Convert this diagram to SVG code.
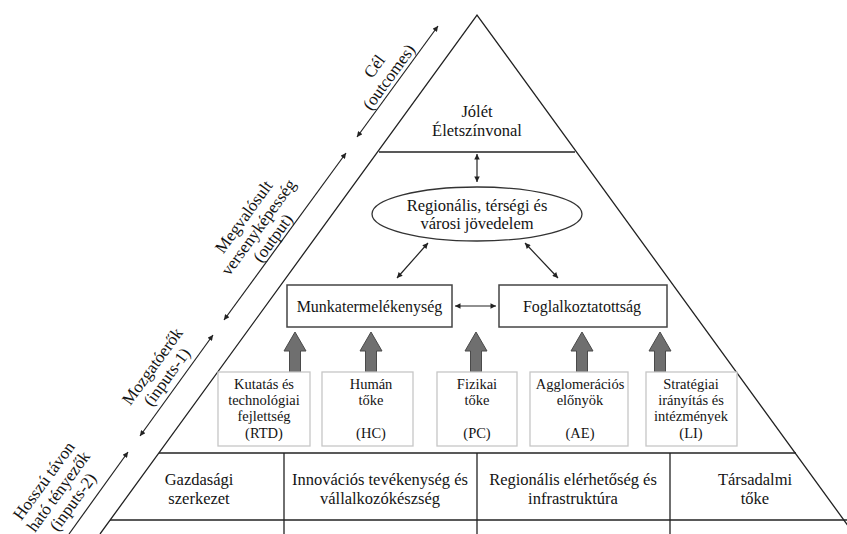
<svg xmlns="http://www.w3.org/2000/svg" xmlns:xlink="http://www.w3.org/1999/xlink" width="847" height="534" viewBox="0 0 847 534">
<style>
  text { font-family: 'Liberation Serif', 'DejaVu Serif', serif; fill: #141414; text-anchor: middle; }
  .ln { stroke: #222; stroke-width: 1.3; fill: none; }
  .arr { stroke: #222; stroke-width: 1.2; fill: none; marker-start: url(#ah); marker-end: url(#ah); }
  .box { fill: #fff; stroke: #444; stroke-width: 1.5; }
  .ibox { fill: #fff; stroke: #c6c6c6; stroke-width: 1.3; }
  .t16 { font-size: 16.5px; }
  .t15 { font-size: 16px; }
  .t14 { font-size: 14.5px; }
  .side { font-size: 17px; }
  .garrow { fill: #6f6f6f; stroke: #4a4a4a; stroke-width: 1; }
</style>
<defs>
  <marker id="ah" viewBox="0 0 10 10" refX="10" refY="5" markerWidth="7" markerHeight="5.5" orient="auto-start-reverse" markerUnits="userSpaceOnUse">
    <path d="M0,0 L10,5 L0,10 z" fill="#222"/>
  </marker>
  <path id="ga" class="garrow" d="M0,332 L11,351 L5.5,351 L5.5,372 L-5.5,372 L-5.5,351 L-11,351 Z"/>
</defs>
<rect width="847" height="534" fill="#fff"/>

<g id="frame">
  <path class="ln" d="M100,534 L477,15 L854,534"/>
  <line class="ln" x1="379" y1="152" x2="575" y2="152"/>
  <line class="ln" x1="159" y1="453" x2="796" y2="453"/>
  <line class="ln" x1="110" y1="520" x2="847" y2="520"/>
  <line class="ln" x1="284" y1="453" x2="284" y2="534"/>
  <line class="ln" x1="477" y1="453" x2="477" y2="534"/>
  <line class="ln" x1="670" y1="453" x2="670" y2="534"/>
</g>

<g id="connectors">
  <line class="arr" x1="357" y1="137" x2="438" y2="26"/>
  <line class="arr" x1="224" y1="320" x2="346" y2="153"/>
  <line class="arr" x1="140" y1="436" x2="213" y2="335"/>
  <line class="ln" x1="69" y1="534" x2="128" y2="452" style="stroke-width:1.2; marker-end:url(#ah)"/>
  <line class="arr" x1="477" y1="154" x2="477" y2="182"/>
  <line class="arr" x1="428" y1="243" x2="397" y2="278"/>
  <line class="arr" x1="525" y1="243" x2="558" y2="278"/>
  <line class="arr" x1="455" y1="306" x2="496" y2="306"/>
  <use xlink:href="#ga" x="295"/>
  <use xlink:href="#ga" x="371"/>
  <use xlink:href="#ga" x="476"/>
  <use xlink:href="#ga" x="582"/>
  <use xlink:href="#ga" x="660"/>
</g>

<g id="side-cel" transform="translate(389,77) rotate(-54)">
  <text class="side" y="-12.5">Cél</text>
  <text class="side" y="5.5">(outcomes)</text>
</g>
<g id="side-output" transform="translate(273,238) rotate(-54)">
  <text class="side" y="-30.5">Megvalósult</text>
  <text class="side" y="-12.5">versenyképesség</text>
  <text class="side" y="5.5">(output)</text>
</g>
<g id="side-inputs1" transform="translate(167,377) rotate(-54)">
  <text class="side" y="-12.5">Mozgatóerők</text>
  <text class="side" y="5.5">(inputs-1)</text>
</g>
<g id="side-inputs2" transform="translate(73,502) rotate(-54)">
  <text class="side" y="-30.5">Hosszú távon</text>
  <text class="side" y="-12.5">ható tényezők</text>
  <text class="side" y="5.5">(inputs-2)</text>
</g>

<g id="jolet">
  <text class="t16" x="477" y="117">Jólét</text>
  <text class="t16" x="477" y="136">Életszínvonal</text>
</g>

<g id="jovedelem">
  <ellipse cx="477" cy="214" rx="105" ry="27" fill="#fff" stroke="#333" stroke-width="1.3"/>
  <text class="t16" x="477" y="211">Regionális, térségi és</text>
  <text class="t16" x="477" y="229">városi jövedelem</text>
</g>

<g id="munka">
  <rect class="box" x="287" y="285" width="165" height="42"/>
  <text class="t15" x="369.5" y="312">Munkatermelékenység</text>
</g>
<g id="foglalk">
  <rect class="box" x="499" y="285" width="168" height="42"/>
  <text class="t15" x="582" y="312">Foglalkoztatottság</text>
</g>

<g id="rtd">
  <rect class="ibox" x="218" y="372" width="92" height="74"/>
  <text class="t14" x="264" y="389">Kutatás és</text>
  <text class="t14" x="264" y="405">technológiai</text>
  <text class="t14" x="264" y="421">fejlettség</text>
  <text class="t14" x="264" y="438">(RTD)</text>
</g>
<g id="hc">
  <rect class="ibox" x="322" y="372" width="91" height="74"/>
  <text class="t14" x="371" y="389">Humán</text>
  <text class="t14" x="371" y="405">tőke</text>
  <text class="t14" x="371" y="438">(HC)</text>
</g>
<g id="pc">
  <rect class="ibox" x="437" y="372" width="80" height="74"/>
  <text class="t14" x="477" y="389">Fizikai</text>
  <text class="t14" x="477" y="405">tőke</text>
  <text class="t14" x="477" y="438">(PC)</text>
</g>
<g id="ae">
  <rect class="ibox" x="530" y="372" width="98" height="74"/>
  <text class="t14" x="580" y="389">Agglomerációs</text>
  <text class="t14" x="580" y="405">előnyök</text>
  <text class="t14" x="580" y="438">(AE)</text>
</g>
<g id="li">
  <rect class="ibox" x="646" y="372" width="91" height="74"/>
  <text class="t14" x="691" y="389">Stratégiai</text>
  <text class="t14" x="691" y="405">irányítás és</text>
  <text class="t14" x="691" y="421">intézmények</text>
  <text class="t14" x="691" y="438">(LI)</text>
</g>

<g id="gazdasagi">
  <text class="t16" x="199" y="485">Gazdasági</text>
  <text class="t16" x="199" y="504">szerkezet</text>
</g>
<g id="innovacio">
  <text class="t16" x="380" y="485">Innovációs tevékenység és</text>
  <text class="t16" x="380" y="504">vállalkozókészség</text>
</g>
<g id="regionalis">
  <text class="t16" x="573" y="485">Regionális elérhetőség és</text>
  <text class="t16" x="573" y="504">infrastruktúra</text>
</g>
<g id="tarsadalmi">
  <text class="t16" x="755" y="485">Társadalmi</text>
  <text class="t16" x="755" y="504">tőke</text>
</g>
</svg>
